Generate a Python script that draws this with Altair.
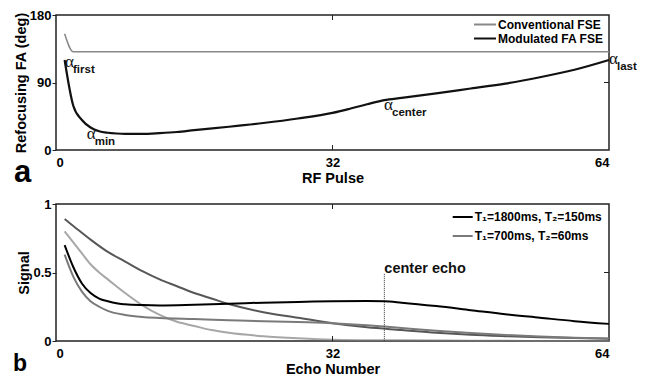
import altair as alt
import pandas as pd

FONT = "Liberation Sans"
W = 553
HA, HB = 135, 137

# ---------------- Panel a data ----------------
series_a = ["Conventional FSE", "Modulated FA FSE"]
conv_x = [1, 2, 64]
conv_y = [155, 131, 131]
mod_x = [1, 2, 3, 4, 5, 6, 7, 8, 10, 12, 14, 16, 20, 24, 28, 32, 34, 36, 38, 40, 44, 48, 52, 56, 60, 64]
mod_y = [120, 59, 40, 30, 25, 23, 22, 21.5, 21.5, 22.5, 24, 26.5, 31, 36, 42, 49.5, 55, 61, 66.5, 69.5, 75.5, 82, 88.5, 97, 107, 120]

ann_x = [1.04, 3.55, 37.96, 64.0]
ann_y = [110.8, 15.3, 53.4, 114.4]
ann_greek = ["α", "α", "α", "α"]
ann_sub = ["first", "min", "center", "last"]

xa_ticks = [32]
ya_ticks = [90]

# ---------------- Panel b data ----------------
tissues = ["T\u2081=1800ms, T\u2082=150ms", "T\u2081=700ms, T\u2082=60ms"]
schemes = ["Conventional", "Modulated"]

# Conventional, T1=1800 / T2=150
a_x = [1, 2, 4, 6, 8, 10, 12, 14, 16, 18, 20, 24, 28, 32, 36, 40, 44, 48, 52, 56, 60, 64]
a_y = [0.89, 0.84, 0.74, 0.65, 0.58, 0.51, 0.45, 0.40, 0.35, 0.31, 0.27, 0.21, 0.17, 0.13, 0.10, 0.08, 0.06, 0.045, 0.035, 0.027, 0.021, 0.017]
# Conventional, T1=700 / T2=60
b_x = [1, 2, 3, 4, 5, 6, 8, 10, 12, 14, 16, 18, 20, 24, 28, 32, 40, 48, 64]
b_y = [0.80, 0.72, 0.64, 0.56, 0.50, 0.45, 0.35, 0.26, 0.19, 0.14, 0.11, 0.08, 0.06, 0.035, 0.02, 0.01, 0.005, 0.002, 0.0]
# Modulated, T1=1800 / T2=150
c_x = [1, 2, 3, 4, 5, 6, 7, 8, 10, 12, 16, 20, 24, 28, 32, 36, 38, 40, 44, 48, 52, 56, 60, 64]
c_y = [0.70, 0.54, 0.42, 0.35, 0.31, 0.29, 0.275, 0.268, 0.262, 0.26, 0.265, 0.272, 0.28, 0.285, 0.29, 0.292, 0.29, 0.28, 0.255, 0.225, 0.195, 0.17, 0.145, 0.125]
# Modulated, T1=700 / T2=60
d_x = [1, 2, 3, 4, 5, 6, 8, 10, 12, 16, 20, 24, 28, 32, 36, 38, 40, 44, 48, 52, 56, 60, 64]
d_y = [0.63, 0.47, 0.36, 0.29, 0.25, 0.22, 0.19, 0.175, 0.168, 0.16, 0.152, 0.145, 0.138, 0.13, 0.115, 0.105, 0.095, 0.075, 0.058, 0.044, 0.033, 0.024, 0.018]

center_x = [38]
center_top = [0.49]
center_label = ["center echo"]

xb_ticks = [32]
yb_ticks = [0.5]

# ---------------- build tables ----------------
dfa = pd.concat([
    pd.DataFrame({"x": conv_x, "y": conv_y, "s": series_a[0], "w": 1.5}),
    pd.DataFrame({"x": mod_x, "y": mod_y, "s": series_a[1], "w": 2.2}),
])
dfann = pd.DataFrame({"x": ann_x, "y": ann_y, "g": ann_greek, "sub": ann_sub})

def curve(xs, ys, tissue, scheme):
    return pd.DataFrame({"x": xs, "y": ys, "tissue": tissue, "scheme": scheme,
                         "key": tissue + scheme})

dfb = pd.concat([
    curve(a_x, a_y, tissues[0], schemes[0]),
    curve(b_x, b_y, tissues[1], schemes[0]),
    curve(c_x, c_y, tissues[0], schemes[1]),
    curve(d_x, d_y, tissues[1], schemes[1]),
])
dfc = pd.DataFrame({"x": center_x, "y": center_top, "y0": [0] * len(center_x), "t": center_label})

# ---------------- encodings ----------------
xs = alt.Scale(domain=[0, 64], nice=False, zero=False)
xaxis = alt.Axis(values=[0, 32, 64], ticks=False, labelPadding=6, titlePadding=2)

Xa = alt.X("x:Q", scale=xs, axis=xaxis, title="RF Pulse")
Ya = alt.Y("y:Q", scale=alt.Scale(domain=[0, 180], nice=False),
           axis=alt.Axis(values=[0, 90, 180], tickSize=4, labelPadding=1, titlePadding=1,
                         titleFontSize=14.5),
           title="Refocusing FA (deg)")

Xb = alt.X("x:Q", scale=xs, axis=xaxis, title="Echo Number")
Yb = alt.Y("y:Q", scale=alt.Scale(domain=[0, 1], nice=False),
           axis=alt.Axis(values=[0, 0.5, 1], tickSize=4, labelPadding=1, titlePadding=1,
                         format="~g"),
           title="Signal")

# a long horizontal stroke, twice the nominal symbol size, so rows stay compact
LINE_PATH = "M-2,0H2"
legend_common = dict(title=None, orient="none", symbolType=LINE_PATH, symbolStrokeWidth=2,
                     labelFont=FONT, labelFontWeight="bold", labelFontSize=12,
                     labelColor="black", padding=0)

# ---------------- panel a ----------------
lines_a = alt.Chart(dfa).mark_line(interpolate="monotone").encode(
    x=Xa, y=Ya,
    color=alt.Color("s:N", scale=alt.Scale(domain=series_a, range=["#888888", "#111111"]),
                    legend=alt.Legend(legendX=422.5, legendY=3, symbolSize=121,
                                      labelOffset=6.5, rowPadding=1, **legend_common)),
    strokeWidth=alt.StrokeWidth("w:Q", scale=None, legend=None),
    detail="s:N",
)

tick_df_a = pd.DataFrame({"x": xa_ticks})
ytick_df_a = pd.DataFrame({"y": ya_ticks})
xt_bot_a = alt.Chart(tick_df_a).mark_rule(color="#222", strokeWidth=1).encode(
    x=Xa, y=alt.value(HA - 5), y2=alt.value(HA))
xt_top_a = alt.Chart(tick_df_a).mark_rule(color="#222", strokeWidth=1).encode(
    x=Xa, y=alt.value(0), y2=alt.value(5))
yt_right_a = alt.Chart(ytick_df_a).mark_rule(color="#222", strokeWidth=1).encode(
    y=Ya, x=alt.value(W - 5), x2=alt.value(W))

greek = alt.Chart(dfann).mark_text(align="left", baseline="alphabetic", font="Liberation Serif",
                                   fontSize=17, color="#111").encode(x=Xa, y=Ya, text="g:N")
subs = alt.Chart(dfann).mark_text(align="left", baseline="alphabetic", font=FONT,
                                  fontWeight="bold", fontSize=11.5, color="#111",
                                  dx=8, dy=6).encode(x=Xa, y=Ya, text="sub:N")

label_a = alt.Chart(pd.DataFrame({"t": ["a"]})).mark_text(
    align="left", baseline="alphabetic", font=FONT, fontWeight="bold", fontSize=31,
    color="black").encode(x=alt.value(-42), y=alt.value(167), text="t:N")

panel_a = alt.layer(lines_a, xt_bot_a, xt_top_a, yt_right_a, greek, subs, label_a).properties(
    width=W, height=HA)

# ---------------- panel b ----------------
lines_b = alt.Chart(dfb).mark_line(interpolate="monotone", strokeWidth=2).encode(
    x=Xb, y=Yb,
    color=alt.Color("tissue:N", scale=alt.Scale(domain=tissues, range=["#000000", "#7a7a7a"]),
                    legend=alt.Legend(legendX=400.7, legendY=7, symbolSize=100,
                                      labelOffset=6, rowPadding=7, **legend_common)),
    opacity=alt.Opacity("scheme:N", scale=alt.Scale(domain=schemes, range=[0.66, 1.0]),
                        legend=None),
    detail="key:N",
)

tick_df_b = pd.DataFrame({"x": xb_ticks})
ytick_df_b = pd.DataFrame({"y": yb_ticks})
xt_bot_b = alt.Chart(tick_df_b).mark_rule(color="#222", strokeWidth=1).encode(
    x=Xb, y=alt.value(HB - 5), y2=alt.value(HB))
xt_top_b = alt.Chart(tick_df_b).mark_rule(color="#222", strokeWidth=1).encode(
    x=Xb, y=alt.value(0), y2=alt.value(5))
yt_right_b = alt.Chart(ytick_df_b).mark_rule(color="#222", strokeWidth=1).encode(
    y=Yb, x=alt.value(W - 5), x2=alt.value(W))

center_rule = alt.Chart(dfc).mark_rule(color="#333", strokeWidth=1, strokeDash=[1, 1]).encode(
    x=Xb, y=Yb, y2="y0:Q")
center_text = alt.Chart(dfc).mark_text(align="left", baseline="alphabetic", font=FONT,
                                       fontWeight="bold", fontSize=14.5, color="#111",
                                       dy=-1).encode(x=Xb, y=Yb, text="t:N")

label_b = alt.Chart(pd.DataFrame({"t": ["b"]})).mark_text(
    align="left", baseline="alphabetic", font=FONT, fontWeight="bold", fontSize=23,
    color="black").encode(x=alt.value(-43), y=alt.value(167), text="t:N")

panel_b = alt.layer(lines_b, xt_bot_b, xt_top_b, yt_right_b, center_rule, center_text,
                    label_b).properties(width=W, height=HB)

chart = alt.vconcat(panel_a, panel_b, spacing=8).resolve_scale(
    color="independent", x="independent", y="independent"
).properties(
    padding={"left": 4, "top": 0, "right": 0, "bottom": 0}
).configure_view(
    stroke="#222", strokeWidth=1.5
).configure_axis(
    labelFont=FONT, labelFontWeight="bold", labelFontSize=13, labelColor="black",
    titleFont=FONT, titleFontWeight="bold", titleFontSize=14.5, titleColor="black",
    grid=False, domain=False, tickColor="#222", tickWidth=1
)

chart.save("out.html", embed_options={"renderer": "svg", "actions": False})
